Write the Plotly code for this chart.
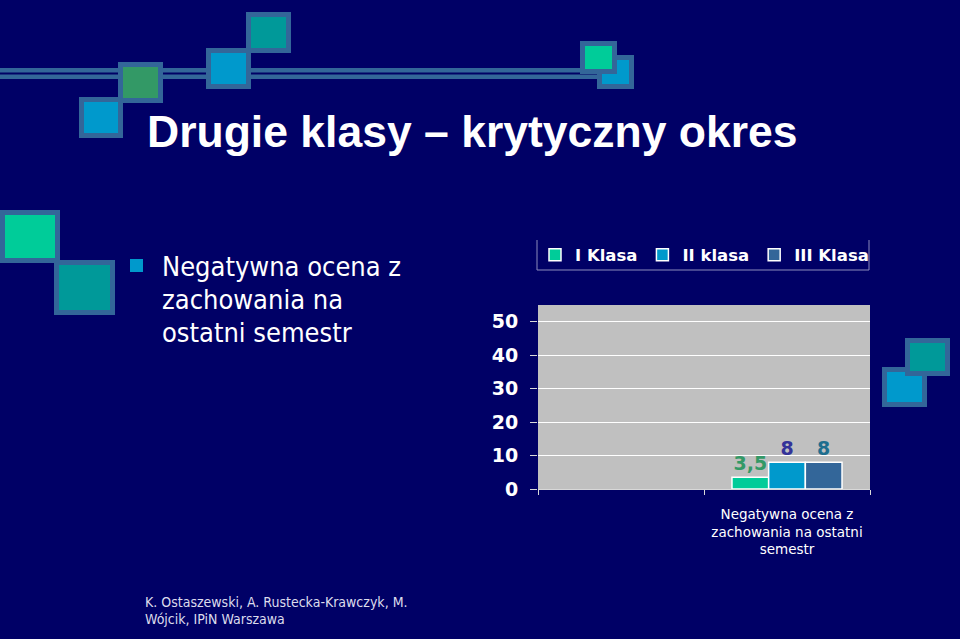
import plotly.graph_objects as go

# chart data
categories = [" ", "Negatywna ocena z<br>zachowania na ostatni<br>semestr"]
series_names = ["I Klasa", "II klasa", "III Klasa"]
klasa_1 = [None, 3.5]
klasa_2 = [None, 8]
klasa_3 = [None, 8]
y_ticks = [0, 10, 20, 30, 40, 50]

bar_colors = ["#00CC99", "#0099CC", "#336699"]
label_colors = ["#339966", "#333399", "#1F6E8E"]

# pixel box of the plot area, used to place slide decorations
L, R, T, B = 538, 870, 305, 489


def fx(x):
    return (x - L) / (R - L)


def fy(y):
    return (B - y) / (B - T)


def fmt(v):
    return "" if v is None else f"{v:g}".replace(".", ",")


fig = go.Figure()
for name, vals, col, lcol in zip(series_names, [klasa_1, klasa_2, klasa_3], bar_colors, label_colors):
    fig.add_trace(go.Bar(
        x=categories, y=vals, name=name,
        marker=dict(color=col, line=dict(color="white", width=1.5)),
        text=[fmt(v) for v in vals], textposition="outside", cliponaxis=False,
        textfont=dict(family="DejaVu Sans", size=19, color=lcol, weight="bold"),
    ))

fig.update_layout(
    width=960, height=639,
    margin=dict(l=L, r=960 - R, t=T, b=639 - B, autoexpand=False),
    paper_bgcolor="#000066", plot_bgcolor="#C0C0C0",
    barmode="group", bargap=0.337, bargroupgap=0,
    font=dict(family="DejaVu Sans", color="white"),
    legend=dict(orientation="h", x=fx(535), xanchor="left", y=fy(255), yanchor="middle",
                font=dict(size=16.5, color="white", weight="bold"), bgcolor="rgba(0,0,0,0)",
                traceorder="normal"),
    xaxis=dict(type="category", tickson="boundaries", ticks="outside", ticklen=5,
               tickcolor="#D8D8D8", showline=True, linecolor="#D8D8D8",
               ticklabelstandoff=13,
               tickfont=dict(size=13.5, color="white"), fixedrange=True),
    yaxis=dict(range=[0, 55], tickvals=y_ticks, showgrid=True, gridcolor="white", gridwidth=1,
               ticks="outside", ticklen=7, tickcolor="#D8D8D8", zeroline=False,
               ticklabelstandoff=8,
               tickfont=dict(size=19, color="white", weight="bold"), fixedrange=True),
)

# legend frame (left, bottom, right)
for x0, y0, x1, y1 in [(537, 240, 537, 270), (537, 270, 869, 270), (869, 270, 869, 240)]:
    fig.add_shape(type="line", xref="paper", yref="paper", x0=fx(x0), y0=fy(y0), x1=fx(x1), y1=fy(y1),
                  line=dict(color="#8C8CBC", width=1))

# slide decoration: double line and squares
fig.add_shape(type="rect", xref="paper", yref="paper", x0=fx(0), x1=fx(600), y0=fy(79), y1=fy(68),
              fillcolor="#336699", line=dict(width=0))
fig.add_shape(type="line", xref="paper", yref="paper", x0=fx(0), x1=fx(600), y0=fy(73.5), y1=fy(73.5),
              line=dict(color="#000066", width=2))

squares = [
    (246, 12, 291, 53, "#009999"),
    (206, 48, 251, 89, "#0099CC"),
    (79, 97, 123, 138, "#0099CC"),
    (118, 62, 163, 103, "#339966"),
    (597, 55, 634, 89, "#0099CC"),
    (580, 41, 617, 74, "#00CC99"),
    (0, 210, 60, 263, "#00CC99"),
    (54, 260, 115, 315, "#009999"),
    (882, 367, 927, 407, "#0099CC"),
    (905, 338, 950, 376, "#009999"),
]
for x0, y0, x1, y1, col in squares:
    fig.add_shape(type="rect", xref="paper", yref="paper",
                  x0=fx(x0 + 2.5), x1=fx(x1 - 2.5), y0=fy(y1 - 2.5), y1=fy(y0 + 2.5),
                  fillcolor=col, line=dict(color="#336699", width=5))

# bullet square
fig.add_shape(type="rect", xref="paper", yref="paper", x0=fx(130), x1=fx(143), y0=fy(272), y1=fy(259),
              fillcolor="#0099CC", line=dict(width=0))

# slide texts
fig.add_annotation(text="Drugie klasy – krytyczny okres", xref="paper", yref="paper",
                   x=fx(145), y=fy(131), xanchor="left", yanchor="middle", showarrow=False,
                   font=dict(family="Liberation Sans", size=44.5, color="white", weight="bold"))

for i, line in enumerate(["Negatywna ocena z", "zachowania na", "ostatni semestr"]):
    fig.add_annotation(text=line, xref="paper", yref="paper",
                       x=fx(160), y=fy(266 + 33 * i), xanchor="left", yanchor="middle", showarrow=False,
                       font=dict(family="DejaVu Sans Condensed", size=27, color="white"))

for i, line in enumerate(["K. Ostaszewski, A. Rustecka-Krawczyk, M.", "Wójcik, IPiN Warszawa"]):
    fig.add_annotation(text=line, xref="paper", yref="paper",
                       x=fx(143), y=fy(602 + 17 * i), xanchor="left", yanchor="middle", showarrow=False,
                       font=dict(family="DejaVu Sans Condensed", size=14, color="#DCDCEC"))

fig.write_html("out.html", config={"displayModeBar": False},
               post_script="document.body.style.margin='0';")
